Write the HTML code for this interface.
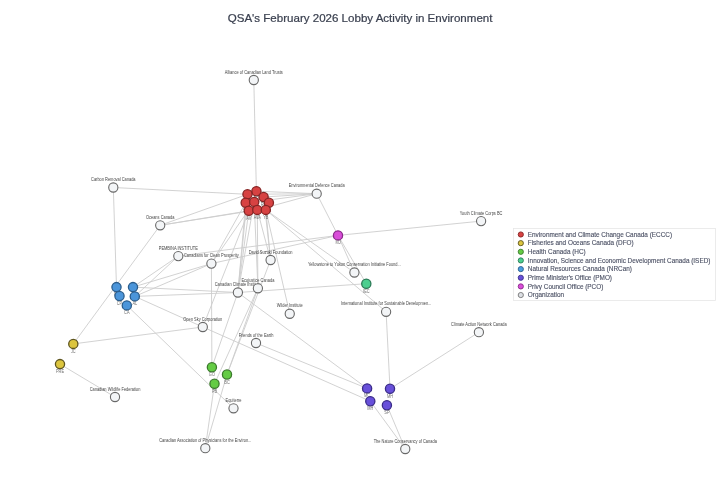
<!DOCTYPE html>
<html><head><meta charset="utf-8"><style>
html,body{margin:0;padding:0;background:#fff;}
body{width:720px;height:504px;overflow:hidden;position:relative;font-family:"Liberation Sans",sans-serif;}
svg{position:absolute;left:0;top:0;filter:blur(0.5px);}
</style></head><body>
<svg width="720" height="504" viewBox="0 0 720 504" font-family="Liberation Sans, sans-serif">
<rect width="720" height="504" fill="#fff"/>
<text x="360.1" y="21.5" text-anchor="middle" font-size="11.55" fill="#3b4150" stroke="#3b4150" stroke-width="0.22">QSA's February 2026 Lobby Activity in Environment</text>
<g stroke="#cdcdcd" stroke-width="0.9" fill="none">
<line x1="253.8" y1="80.0" x2="256.4" y2="191.2"/>
<line x1="113.3" y1="187.5" x2="247.5" y2="194.3"/>
<line x1="113.3" y1="187.5" x2="116.5" y2="287.1"/>
<line x1="160.2" y1="225.3" x2="247.5" y2="194.3"/>
<line x1="160.2" y1="225.3" x2="248.8" y2="210.8"/>
<line x1="160.2" y1="225.3" x2="257.3" y2="209.9"/>
<line x1="160.2" y1="225.3" x2="73.3" y2="343.9"/>
<line x1="316.7" y1="193.7" x2="256.4" y2="191.2"/>
<line x1="316.7" y1="193.7" x2="247.5" y2="194.3"/>
<line x1="316.7" y1="193.7" x2="263.6" y2="197.0"/>
<line x1="316.7" y1="193.7" x2="254.2" y2="201.9"/>
<line x1="316.7" y1="193.7" x2="257.3" y2="209.9"/>
<line x1="316.7" y1="193.7" x2="338.0" y2="235.4"/>
<line x1="481.1" y1="221.1" x2="338.0" y2="235.4"/>
<line x1="178.3" y1="256.1" x2="133.0" y2="287.1"/>
<line x1="178.3" y1="256.1" x2="134.8" y2="296.4"/>
<line x1="178.3" y1="256.1" x2="338.0" y2="235.4"/>
<line x1="211.4" y1="263.6" x2="133.0" y2="287.1"/>
<line x1="211.4" y1="263.6" x2="134.8" y2="296.4"/>
<line x1="211.4" y1="263.6" x2="338.0" y2="235.4"/>
<line x1="211.4" y1="263.6" x2="211.9" y2="367.3"/>
<line x1="211.4" y1="263.6" x2="245.7" y2="202.8"/>
<line x1="211.4" y1="263.6" x2="254.2" y2="201.9"/>
<line x1="270.6" y1="260.0" x2="265.8" y2="209.9"/>
<line x1="270.6" y1="260.0" x2="257.3" y2="209.9"/>
<line x1="270.6" y1="260.0" x2="263.6" y2="197.0"/>
<line x1="270.6" y1="260.0" x2="227.0" y2="374.5"/>
<line x1="257.9" y1="288.3" x2="257.3" y2="209.9"/>
<line x1="257.9" y1="288.3" x2="254.2" y2="201.9"/>
<line x1="257.9" y1="288.3" x2="227.0" y2="374.5"/>
<line x1="257.9" y1="288.3" x2="214.5" y2="383.8"/>
<line x1="237.9" y1="292.5" x2="247.5" y2="194.3"/>
<line x1="237.9" y1="292.5" x2="245.7" y2="202.8"/>
<line x1="237.9" y1="292.5" x2="248.8" y2="210.8"/>
<line x1="237.9" y1="292.5" x2="254.2" y2="201.9"/>
<line x1="237.9" y1="292.5" x2="133.0" y2="287.1"/>
<line x1="237.9" y1="292.5" x2="134.8" y2="296.4"/>
<line x1="237.9" y1="292.5" x2="211.9" y2="367.3"/>
<line x1="237.9" y1="292.5" x2="367.1" y2="388.4"/>
<line x1="237.9" y1="292.5" x2="366.3" y2="283.7"/>
<line x1="354.4" y1="272.5" x2="265.8" y2="209.9"/>
<line x1="354.4" y1="272.5" x2="338.0" y2="235.4"/>
<line x1="386.1" y1="311.8" x2="265.8" y2="209.9"/>
<line x1="366.3" y1="283.7" x2="338.0" y2="235.4"/>
<line x1="386.1" y1="311.8" x2="390.0" y2="388.8"/>
<line x1="289.75" y1="313.75" x2="265.8" y2="209.9"/>
<line x1="202.8" y1="327.0" x2="134.8" y2="296.4"/>
<line x1="202.8" y1="327.0" x2="73.3" y2="343.9"/>
<line x1="202.8" y1="327.0" x2="370.3" y2="401.2"/>
<line x1="202.8" y1="327.0" x2="248.8" y2="210.8"/>
<line x1="256.0" y1="343.0" x2="367.1" y2="388.4"/>
<line x1="115.0" y1="397.0" x2="60.0" y2="364.1"/>
<line x1="233.5" y1="408.3" x2="126.8" y2="305.4"/>
<line x1="205.3" y1="448.2" x2="214.5" y2="383.8"/>
<line x1="205.3" y1="448.2" x2="227.0" y2="374.5"/>
<line x1="405.25" y1="449.0" x2="370.3" y2="401.2"/>
<line x1="405.25" y1="449.0" x2="386.9" y2="405.2"/>
<line x1="478.9" y1="332.2" x2="390.0" y2="388.8"/>
</g>
<circle cx="253.8" cy="80.0" r="4.6" fill="#f3f5f7" stroke="#686868" stroke-width="1.1"/>
<text transform="translate(253.8,73.60) scale(0.87,1)" font-size="4.54" fill="#454545" text-anchor="middle">Alliance of Canadian Land Trusts</text>
<circle cx="113.3" cy="187.5" r="4.6" fill="#f3f5f7" stroke="#686868" stroke-width="1.1"/>
<text transform="translate(113.3,181.10) scale(0.87,1)" font-size="4.54" fill="#454545" text-anchor="middle">Carbon Removal Canada</text>
<circle cx="160.2" cy="225.3" r="4.6" fill="#f3f5f7" stroke="#686868" stroke-width="1.1"/>
<text transform="translate(160.2,218.90) scale(0.87,1)" font-size="4.54" fill="#454545" text-anchor="middle">Oceans Canada</text>
<circle cx="316.7" cy="193.7" r="4.6" fill="#f3f5f7" stroke="#686868" stroke-width="1.1"/>
<text transform="translate(316.7,187.30) scale(0.87,1)" font-size="4.54" fill="#454545" text-anchor="middle">Environmental Defence Canada</text>
<circle cx="481.1" cy="221.1" r="4.6" fill="#f3f5f7" stroke="#686868" stroke-width="1.1"/>
<text transform="translate(481.1,214.70) scale(0.87,1)" font-size="4.54" fill="#454545" text-anchor="middle">Youth Climate Corps BC</text>
<circle cx="178.3" cy="256.1" r="4.6" fill="#f3f5f7" stroke="#686868" stroke-width="1.1"/>
<text transform="translate(178.3,249.70) scale(0.87,1)" font-size="4.54" fill="#454545" text-anchor="middle">PEMBINA INSTITUTE</text>
<circle cx="211.4" cy="263.6" r="4.6" fill="#f3f5f7" stroke="#686868" stroke-width="1.1"/>
<text transform="translate(211.4,257.20) scale(0.87,1)" font-size="4.54" fill="#454545" text-anchor="middle">Canadians for Clean Prosperity</text>
<circle cx="270.6" cy="260.0" r="4.6" fill="#f3f5f7" stroke="#686868" stroke-width="1.1"/>
<text transform="translate(270.6,253.60) scale(0.87,1)" font-size="4.54" fill="#454545" text-anchor="middle">David Suzuki Foundation</text>
<circle cx="237.9" cy="292.5" r="4.6" fill="#f3f5f7" stroke="#686868" stroke-width="1.1"/>
<text transform="translate(237.9,286.10) scale(0.87,1)" font-size="4.54" fill="#454545" text-anchor="middle">Canadian Climate Institute</text>
<circle cx="257.9" cy="288.3" r="4.6" fill="#f3f5f7" stroke="#686868" stroke-width="1.1"/>
<text transform="translate(257.9,281.90) scale(0.87,1)" font-size="4.54" fill="#454545" text-anchor="middle">Ecojustice Canada</text>
<circle cx="354.4" cy="272.5" r="4.6" fill="#f3f5f7" stroke="#686868" stroke-width="1.1"/>
<text transform="translate(354.4,266.10) scale(0.87,1)" font-size="4.54" fill="#454545" text-anchor="middle">Yellowstone to Yukon Conservation Initiative Found...</text>
<circle cx="386.1" cy="311.8" r="4.6" fill="#f3f5f7" stroke="#686868" stroke-width="1.1"/>
<text transform="translate(386.1,305.40) scale(0.87,1)" font-size="4.54" fill="#454545" text-anchor="middle">International Institute for Sustainable Developmen...</text>
<circle cx="289.75" cy="313.75" r="4.6" fill="#f3f5f7" stroke="#686868" stroke-width="1.1"/>
<text transform="translate(289.75,307.35) scale(0.87,1)" font-size="4.54" fill="#454545" text-anchor="middle">Wilder Institute</text>
<circle cx="202.8" cy="327.0" r="4.6" fill="#f3f5f7" stroke="#686868" stroke-width="1.1"/>
<text transform="translate(202.8,320.60) scale(0.87,1)" font-size="4.54" fill="#454545" text-anchor="middle">Open Sky Corporation</text>
<circle cx="256.0" cy="343.0" r="4.6" fill="#f3f5f7" stroke="#686868" stroke-width="1.1"/>
<text transform="translate(256.0,336.60) scale(0.87,1)" font-size="4.54" fill="#454545" text-anchor="middle">Friends of the Earth</text>
<circle cx="115.0" cy="397.0" r="4.6" fill="#f3f5f7" stroke="#686868" stroke-width="1.1"/>
<text transform="translate(115.0,390.60) scale(0.87,1)" font-size="4.54" fill="#454545" text-anchor="middle">Canadian Wildlife Federation</text>
<circle cx="233.5" cy="408.3" r="4.6" fill="#f3f5f7" stroke="#686868" stroke-width="1.1"/>
<text transform="translate(233.5,401.90) scale(0.87,1)" font-size="4.54" fill="#454545" text-anchor="middle">Equiterre</text>
<circle cx="205.3" cy="448.2" r="4.6" fill="#f3f5f7" stroke="#686868" stroke-width="1.1"/>
<text transform="translate(205.3,441.80) scale(0.87,1)" font-size="4.54" fill="#454545" text-anchor="middle">Canadian Association of Physicians for the Environ...</text>
<circle cx="405.25" cy="449.0" r="4.6" fill="#f3f5f7" stroke="#686868" stroke-width="1.1"/>
<text transform="translate(405.25,442.60) scale(0.87,1)" font-size="4.54" fill="#454545" text-anchor="middle">The Nature Conservancy of Canada</text>
<circle cx="478.9" cy="332.2" r="4.6" fill="#f3f5f7" stroke="#686868" stroke-width="1.1"/>
<text transform="translate(478.9,325.80) scale(0.87,1)" font-size="4.54" fill="#454545" text-anchor="middle">Climate Action Network Canada</text>
<circle cx="256.4" cy="191.2" r="4.6" fill="#d74242" stroke="#862424" stroke-width="1.3"/>
<text transform="translate(256.4,200.20) scale(0.86,1)" font-size="4.54" fill="#707070" text-anchor="middle">TD</text>
<circle cx="247.5" cy="194.3" r="4.6" fill="#d74242" stroke="#862424" stroke-width="1.3"/>
<text transform="translate(247.5,203.30) scale(0.86,1)" font-size="4.54" fill="#707070" text-anchor="middle">MB</text>
<circle cx="263.6" cy="197.0" r="4.6" fill="#d74242" stroke="#862424" stroke-width="1.3"/>
<text transform="translate(263.6,206.00) scale(0.86,1)" font-size="4.54" fill="#707070" text-anchor="middle">RG</text>
<circle cx="245.7" cy="202.8" r="4.6" fill="#d74242" stroke="#862424" stroke-width="1.3"/>
<text transform="translate(245.7,211.80) scale(0.86,1)" font-size="4.54" fill="#707070" text-anchor="middle">SR</text>
<circle cx="254.2" cy="201.9" r="4.6" fill="#d74242" stroke="#862424" stroke-width="1.3"/>
<text transform="translate(254.2,210.90) scale(0.86,1)" font-size="4.54" fill="#707070" text-anchor="middle">JP</text>
<circle cx="268.9" cy="202.8" r="4.6" fill="#d74242" stroke="#862424" stroke-width="1.3"/>
<text transform="translate(268.9,211.80) scale(0.86,1)" font-size="4.54" fill="#707070" text-anchor="middle">KL</text>
<circle cx="248.8" cy="210.8" r="4.6" fill="#d74242" stroke="#862424" stroke-width="1.3"/>
<text transform="translate(248.8,219.80) scale(0.86,1)" font-size="4.54" fill="#707070" text-anchor="middle">AV</text>
<circle cx="257.3" cy="209.9" r="4.6" fill="#d74242" stroke="#862424" stroke-width="1.3"/>
<text transform="translate(257.3,218.90) scale(0.86,1)" font-size="4.54" fill="#707070" text-anchor="middle">AVA</text>
<circle cx="265.8" cy="209.9" r="4.6" fill="#d74242" stroke="#862424" stroke-width="1.3"/>
<text transform="translate(265.8,218.90) scale(0.86,1)" font-size="4.54" fill="#707070" text-anchor="middle">YB</text>
<circle cx="116.5" cy="287.1" r="4.6" fill="#4b95da" stroke="#2b5d8c" stroke-width="1.3"/>
<text transform="translate(116.5,296.10) scale(0.86,1)" font-size="4.54" fill="#707070" text-anchor="middle">FH</text>
<circle cx="119.5" cy="296.0" r="4.6" fill="#4b95da" stroke="#2b5d8c" stroke-width="1.3"/>
<text transform="translate(119.5,305.00) scale(0.86,1)" font-size="4.54" fill="#707070" text-anchor="middle">CP</text>
<circle cx="133.0" cy="287.1" r="4.6" fill="#4b95da" stroke="#2b5d8c" stroke-width="1.3"/>
<circle cx="134.8" cy="296.4" r="4.6" fill="#4b95da" stroke="#2b5d8c" stroke-width="1.3"/>
<text transform="translate(134.8,305.40) scale(0.86,1)" font-size="4.54" fill="#707070" text-anchor="middle">AL</text>
<circle cx="126.8" cy="305.4" r="4.6" fill="#4b95da" stroke="#2b5d8c" stroke-width="1.3"/>
<text transform="translate(126.8,314.40) scale(0.86,1)" font-size="4.54" fill="#707070" text-anchor="middle">CA</text>
<circle cx="73.3" cy="343.9" r="4.6" fill="#dcc53e" stroke="#5e5520" stroke-width="1.3"/>
<text transform="translate(73.3,352.90) scale(0.86,1)" font-size="4.54" fill="#707070" text-anchor="middle">JC</text>
<circle cx="60.0" cy="364.1" r="4.6" fill="#dcc53e" stroke="#5e5520" stroke-width="1.3"/>
<text transform="translate(60.0,373.10) scale(0.86,1)" font-size="4.54" fill="#707070" text-anchor="middle">PRE</text>
<circle cx="211.9" cy="367.3" r="4.6" fill="#64cc44" stroke="#3b7a2c" stroke-width="1.3"/>
<text transform="translate(211.9,376.30) scale(0.86,1)" font-size="4.54" fill="#707070" text-anchor="middle">GO</text>
<circle cx="227.0" cy="374.5" r="4.6" fill="#64cc44" stroke="#3b7a2c" stroke-width="1.3"/>
<text transform="translate(227.0,383.50) scale(0.86,1)" font-size="4.54" fill="#707070" text-anchor="middle">BC</text>
<circle cx="214.5" cy="383.8" r="4.6" fill="#64cc44" stroke="#3b7a2c" stroke-width="1.3"/>
<text transform="translate(214.5,392.80) scale(0.86,1)" font-size="4.54" fill="#707070" text-anchor="middle">PB</text>
<circle cx="366.3" cy="283.7" r="4.6" fill="#4ccf8f" stroke="#2b7a56" stroke-width="1.3"/>
<text transform="translate(366.3,292.70) scale(0.86,1)" font-size="4.54" fill="#707070" text-anchor="middle">IEC</text>
<circle cx="367.1" cy="388.4" r="4.6" fill="#6850da" stroke="#3a2c88" stroke-width="1.3"/>
<text transform="translate(367.1,397.40) scale(0.86,1)" font-size="4.54" fill="#707070" text-anchor="middle">MC</text>
<circle cx="390.0" cy="388.8" r="4.6" fill="#6850da" stroke="#3a2c88" stroke-width="1.3"/>
<text transform="translate(390.0,397.80) scale(0.86,1)" font-size="4.54" fill="#707070" text-anchor="middle">MH</text>
<circle cx="370.3" cy="401.2" r="4.6" fill="#6850da" stroke="#3a2c88" stroke-width="1.3"/>
<text transform="translate(370.3,410.20) scale(0.86,1)" font-size="4.54" fill="#707070" text-anchor="middle">MH</text>
<circle cx="386.9" cy="405.2" r="4.6" fill="#6850da" stroke="#3a2c88" stroke-width="1.3"/>
<text transform="translate(386.9,414.20) scale(0.86,1)" font-size="4.54" fill="#707070" text-anchor="middle">SP</text>
<circle cx="338.0" cy="235.4" r="4.6" fill="#d94ed9" stroke="#8a2a8a" stroke-width="1.3"/>
<text transform="translate(338.0,244.40) scale(0.86,1)" font-size="4.54" fill="#707070" text-anchor="middle">MJ</text>
<rect x="513.4" y="228.5" width="202" height="71.9" fill="#fff" stroke="#e6e6e6" stroke-width="0.8"/>
<circle cx="520.8" cy="234.5" r="2.6" fill="#d74242" stroke="#862424" stroke-width="0.9"/>
<text x="527.8" y="236.8" font-size="6.4" fill="#4b5064" stroke="#4b5064" stroke-width="0.12">Environment and Climate Change Canada (ECCC)</text>
<circle cx="520.8" cy="243.15" r="2.6" fill="#dcc53e" stroke="#5e5520" stroke-width="0.9"/>
<text x="527.8" y="245.45000000000002" font-size="6.4" fill="#4b5064" stroke="#4b5064" stroke-width="0.12">Fisheries and Oceans Canada (DFO)</text>
<circle cx="520.8" cy="251.8" r="2.6" fill="#64cc44" stroke="#3b7a2c" stroke-width="0.9"/>
<text x="527.8" y="254.10000000000002" font-size="6.4" fill="#4b5064" stroke="#4b5064" stroke-width="0.12">Health Canada (HC)</text>
<circle cx="520.8" cy="260.45" r="2.6" fill="#4ccf8f" stroke="#2b7a56" stroke-width="0.9"/>
<text x="527.8" y="262.75" font-size="6.4" fill="#4b5064" stroke="#4b5064" stroke-width="0.12">Innovation, Science and Economic Development Canada (ISED)</text>
<circle cx="520.8" cy="269.1" r="2.6" fill="#4a9ee0" stroke="#2c5f8c" stroke-width="0.9"/>
<text x="527.8" y="271.40000000000003" font-size="6.4" fill="#4b5064" stroke="#4b5064" stroke-width="0.12">Natural Resources Canada (NRCan)</text>
<circle cx="520.8" cy="277.75" r="2.6" fill="#6850da" stroke="#3a2c88" stroke-width="0.9"/>
<text x="527.8" y="280.05" font-size="6.4" fill="#4b5064" stroke="#4b5064" stroke-width="0.12">Prime Minister&#39;s Office (PMO)</text>
<circle cx="520.8" cy="286.4" r="2.6" fill="#d94ed9" stroke="#8a2a8a" stroke-width="0.9"/>
<text x="527.8" y="288.7" font-size="6.4" fill="#4b5064" stroke="#4b5064" stroke-width="0.12">Privy Council Office (PCO)</text>
<circle cx="520.8" cy="295.05" r="2.6" fill="#dcdfe4" stroke="#777" stroke-width="0.9"/>
<text x="527.8" y="297.35" font-size="6.4" fill="#4b5064" stroke="#4b5064" stroke-width="0.12">Organization</text>
</svg>
</body></html>
